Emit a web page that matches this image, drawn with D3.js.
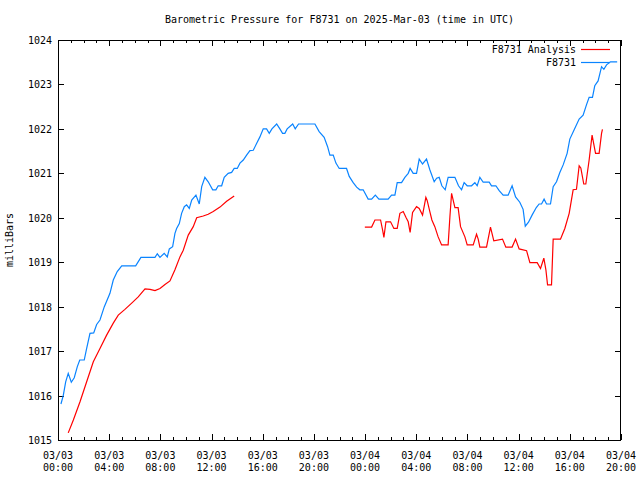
<!DOCTYPE html>
<html>
<head>
<meta charset="utf-8">
<script src="https://cdn.jsdelivr.net/npm/d3@7"></script>
<style>
  body { margin: 0; background: #fff; }
  svg { display: block; }
  text { font-family: "DejaVu Sans Mono", "Liberation Mono", monospace; font-size: 10px; fill: #000; }
</style>
</head>
<body>
<svg id="chart" width="640" height="480"></svg>
<script>
// ---- data (hours since 2025-03-03 00:00 UTC) ----
const stationHours = [0.23,0.41,0.60,0.80,1.04,1.27,1.51,1.70,2.05,2.24,2.50,2.79,3.02,3.28,3.62,4.06,4.32,4.63,4.98,6.07,6.48,7.58,7.76,7.97,8.30,8.54,8.70,8.96,9.14,9.27,9.48,9.66,9.87,10.05,10.26,10.45,10.78,11.04,11.23,11.48,11.74,12.09,12.34,12.52,12.79,12.99,13.30,13.57,13.77,14.01,14.22,14.48,14.74,15.00,15.26,15.52,15.78,16.04,16.30,16.51,16.72,17.09,17.34,17.55,17.73,17.91,18.34,18.54,18.80,20.08,20.41,20.80,21.07,21.25,21.51,21.72,21.98,22.55,22.76,23.07,23.34,23.59,23.85,24.24,24.51,24.80,25.08,25.80,26.07,26.33,26.51,26.85,27.11,27.37,27.52,27.76,28.02,28.23,28.49,28.80,29.06,29.40,29.59,29.79,30.00,30.26,30.49,31.02,31.30,31.54,31.74,31.98,32.32,32.58,32.76,32.97,33.23,33.70,33.88,34.22,34.48,34.79,35.18,35.49,35.76,36.09,36.35,36.52,36.77,37.05,37.38,37.60,37.79,37.99,38.18,38.49,38.70,38.96,39.22,39.48,39.79,40.00,40.34,40.73,41.04,41.30,41.51,41.77,41.95,42.21,42.48,42.66,42.87,43.18,43.70];
const stationValues = [1015.81,1016.00,1016.31,1016.50,1016.30,1016.40,1016.65,1016.80,1016.80,1017.06,1017.40,1017.41,1017.60,1017.70,1018.00,1018.30,1018.60,1018.79,1018.92,1018.92,1019.11,1019.11,1019.19,1019.11,1019.20,1019.12,1019.30,1019.35,1019.65,1019.76,1019.87,1020.10,1020.25,1020.29,1020.21,1020.40,1020.51,1020.31,1020.70,1020.91,1020.81,1020.63,1020.63,1020.72,1020.72,1020.91,1021.00,1021.02,1021.11,1021.11,1021.23,1021.30,1021.41,1021.51,1021.52,1021.67,1021.82,1022.00,1022.00,1021.90,1022.00,1022.11,1022.00,1021.90,1021.90,1022.00,1022.11,1022.00,1022.11,1022.11,1021.94,1021.81,1021.60,1021.41,1021.41,1021.23,1021.11,1021.11,1020.93,1020.79,1020.69,1020.63,1020.63,1020.42,1020.42,1020.51,1020.42,1020.42,1020.51,1020.51,1020.79,1020.79,1020.91,1021.00,1021.11,1021.00,1021.00,1021.32,1021.21,1021.32,1021.08,1020.81,1020.89,1020.91,1020.72,1020.63,1020.91,1020.91,1020.72,1020.63,1020.79,1020.72,1020.72,1020.79,1020.72,1020.91,1020.80,1020.80,1020.72,1020.72,1020.61,1020.51,1020.51,1020.72,1020.47,1020.35,1020.19,1019.81,1019.90,1020.06,1020.23,1020.31,1020.31,1020.42,1020.31,1020.31,1020.70,1020.81,1021.02,1021.19,1021.45,1021.77,1021.98,1022.22,1022.31,1022.54,1022.71,1022.71,1022.97,1023.08,1023.40,1023.34,1023.44,1023.51,1023.51];

// null marks the gap in the analysis series
const analysisHours = [0.80,1.20,1.72,2.24,2.76,3.28,3.80,4.32,4.71,5.23,5.76,6.27,6.80,7.19,7.58,7.97,8.36,8.75,9.14,9.53,9.79,10.18,10.57,10.84,11.35,11.74,12.13,12.66,13.18,13.77,18.00,23.98,24.51,24.77,25.21,25.37,25.47,25.63,25.99,26.25,26.51,26.72,26.98,27.19,27.37,27.52,27.71,28.02,28.23,28.49,28.75,28.85,29.06,29.22,29.45,29.71,29.98,30.49,30.63,30.76,31.02,31.27,31.46,31.80,31.98,32.45,32.71,32.84,32.97,33.49,33.80,34.06,34.74,35.00,35.49,35.76,36.04,36.62,36.88,37.45,37.71,37.97,38.13,38.26,38.57,38.70,39.27,39.61,39.95,40.26,40.52,40.73,40.86,41.09,41.25,41.51,41.74,42.01,42.29,42.48,42.55];
const analysisValues = [1015.16,1015.45,1015.86,1016.31,1016.76,1017.06,1017.36,1017.63,1017.81,1017.94,1018.08,1018.22,1018.40,1018.39,1018.36,1018.41,1018.50,1018.58,1018.83,1019.12,1019.27,1019.61,1019.80,1020.00,1020.04,1020.08,1020.14,1020.24,1020.37,1020.49,null,1019.79,1019.79,1019.95,1019.95,1019.72,1019.56,1019.91,1019.91,1019.76,1019.76,1020.10,1020.14,1020.01,1019.91,1019.67,1020.12,1020.25,1020.21,1020.06,1020.46,1020.39,1020.14,1019.95,1019.80,1019.57,1019.39,1019.39,1020.03,1020.55,1020.23,1020.23,1019.80,1019.57,1019.39,1019.39,1019.63,1019.52,1019.34,1019.34,1019.79,1019.48,1019.52,1019.34,1019.34,1019.52,1019.30,1019.26,1018.99,1018.99,1018.86,1019.09,1018.83,1018.49,1018.49,1019.52,1019.52,1019.76,1020.10,1020.63,1020.64,1021.17,1021.12,1020.76,1020.76,1021.30,1021.86,1021.45,1021.45,1021.90,1021.99];

const xTickHours = [0,4,8,12,16,20,24,28,32,36,40,44];
const xTickLabels = ["03/03\n00:00","03/03\n04:00","03/03\n08:00","03/03\n12:00","03/03\n16:00","03/03\n20:00","03/04\n00:00","03/04\n04:00","03/04\n08:00","03/04\n12:00","03/04\n16:00","03/04\n20:00"];
const yTickValues = [1015,1016,1017,1018,1019,1020,1021,1022,1023,1024];
const seriesNames = ["F8731 Analysis","F8731"];
const seriesColors = ["#ff0000","#0a84ff"];
const titleText = "Barometric Pressure for F8731 on 2025-Mar-03 (time in UTC)";
const yLabelText = "milliBars";

// ---- layout ----
const L = 58, R = 621, T = 40, B = 440;
const svg = d3.select("#chart");
const x = d3.scaleLinear().domain([0, 44]).range([L, R]);
const y = d3.scaleLinear().domain([1015, 1024]).range([B, T]);

const g = svg.append("g").attr("shape-rendering", "crispEdges");

// minor + major ticks (bottom/top)
const minorX = d3.range(0, 45, 1);
minorX.forEach(h => {
  const major = h % 4 === 0;
  const len = major ? 6 : 3;
  const px = Math.round(x(h)) + 0.5;
  g.append("line").attr("x1", px).attr("x2", px).attr("y1", B).attr("y2", B - len).attr("stroke", "#000");
  g.append("line").attr("x1", px).attr("x2", px).attr("y1", T).attr("y2", T + len).attr("stroke", "#000");
});
yTickValues.forEach(v => {
  const py = Math.round(y(v)) + 0.5;
  g.append("line").attr("x1", L).attr("x2", L + 6).attr("y1", py).attr("y2", py).attr("stroke", "#000");
  g.append("line").attr("x1", R).attr("x2", R - 6).attr("y1", py).attr("y2", py).attr("stroke", "#000");
});

// border
g.append("rect").attr("x", L + 0.5).attr("y", T + 0.5).attr("width", R - L - 1).attr("height", B - T)
  .attr("fill", "none").attr("stroke", "#000");

// y labels
svg.append("g").selectAll("text").data(yTickValues).join("text")
  .attr("x", L - 6).attr("y", d => y(d) + 4)
  .attr("text-anchor", "end").text(d => d);

// x labels
xTickHours.forEach((h, i) => {
  const parts = xTickLabels[i].split("\n");
  const t = svg.append("text").attr("text-anchor", "middle");
  t.append("tspan").attr("x", x(h)).attr("y", 459).text(parts[0]);
  t.append("tspan").attr("x", x(h)).attr("y", 471).text(parts[1]);
});

// title
svg.append("text").attr("x", (L + R) / 2).attr("y", 23).attr("text-anchor", "middle").text(titleText);

// y axis label
svg.append("text").attr("transform", "translate(13,240) rotate(-90)").attr("text-anchor", "middle").text(yLabelText);

// lines
const line = d3.line().defined(d => d[1] !== null).x(d => x(d[0])).y(d => y(d[1]));
const analysis = analysisHours.map((h, i) => [h, analysisValues[i]]);
const station = stationHours.map((h, i) => [h, stationValues[i]]);

svg.append("path").datum(analysis).attr("d", line).attr("fill", "none")
  .attr("stroke", seriesColors[0]).attr("stroke-width", 1.2);
svg.append("path").datum(station).attr("d", line).attr("fill", "none")
  .attr("stroke", seriesColors[1]).attr("stroke-width", 1.2);

// legend
seriesNames.forEach((name, i) => {
  const ly = 49 + i * 13;
  svg.append("text").attr("x", 576).attr("y", ly + 4).attr("text-anchor", "end").text(name);
  svg.append("line").attr("x1", 581).attr("x2", 610).attr("y1", ly + 0.5).attr("y2", ly + 0.5)
    .attr("stroke", seriesColors[i]).attr("stroke-width", 1.2);
});
</script>
</body>
</html>
